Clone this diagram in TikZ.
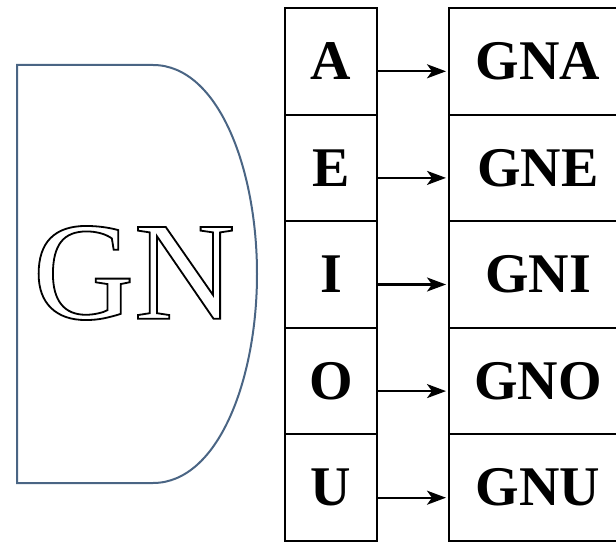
\documentclass[tikz,border=0pt]{standalone}
\usepackage{fontspec}
\setmainfont{Liberation Serif}
\usepackage{tikz}
\usetikzlibrary{arrows.meta}

\definecolor{shapeblue}{HTML}{4A6584}
\newcommand{\hollow}[1]{\special{pdf:literal direct 1 Tr 1.8 w}#1\special{pdf:literal direct 0 Tr}}

\begin{document}
\begin{tikzpicture}[x=1pt, y=-1pt,
        letter/.style={rectangle, draw, line width=2pt, minimum width=92pt, minimum height=106.6pt, inner sep=0pt, font=\fontsize{56}{60}\selectfont\bfseries},
        syll/.style={letter, minimum width=178pt},
        link/.style={-{Stealth[length=19pt, width=14pt, inset=5pt]}, line width=2.2pt, shorten >=2pt}]
        \useasboundingbox (0,0) rectangle (616,543);
        \clip (0,0) rectangle (616,543);
        % the GN block
        \draw[shapeblue, line width=2pt] (153,65) -- (17,65) -- (17,483) -- (153,483)
            .. controls (218,483) and (257,380) .. (257,274)
            .. controls (257,168) and (218,65) .. (153,65);
        \node (gn) at (134,273) {\fontsize{140}{150}\selectfont\hollow{GN}};
        % vowels
        \node[letter] (a) at (331,61.3) {A};
        \node[letter] (e) at (331,167.9) {E};
        \node[letter] (i) at (331,274.5) {I};
        \node[letter] (o) at (331,381.1) {O};
        \node[letter] (u) at (331,487.7) {U};
        % syllables
        \node[syll] (gna) at (538,61.3) {GNA};
        \node[syll] (gne) at (538,167.9) {GNE};
        \node[syll] (gni) at (538,274.5) {GNI};
        \node[syll] (gno) at (538,381.1) {GNO};
        \node[syll] (gnu) at (538,487.7) {GNU};
        \draw[link] ([yshift=-10pt]a.east) -- ([yshift=-10pt]gna.west);
        \draw[link] ([yshift=-10pt]e.east) -- ([yshift=-10pt]gne.west);
        \draw[link] ([yshift=-10pt]i.east) -- ([yshift=-10pt]gni.west);
        \draw[link] ([yshift=-10pt]o.east) -- ([yshift=-10pt]gno.west);
        \draw[link] ([yshift=-10pt]u.east) -- ([yshift=-10pt]gnu.west);
    \end{tikzpicture}
\end{document}
